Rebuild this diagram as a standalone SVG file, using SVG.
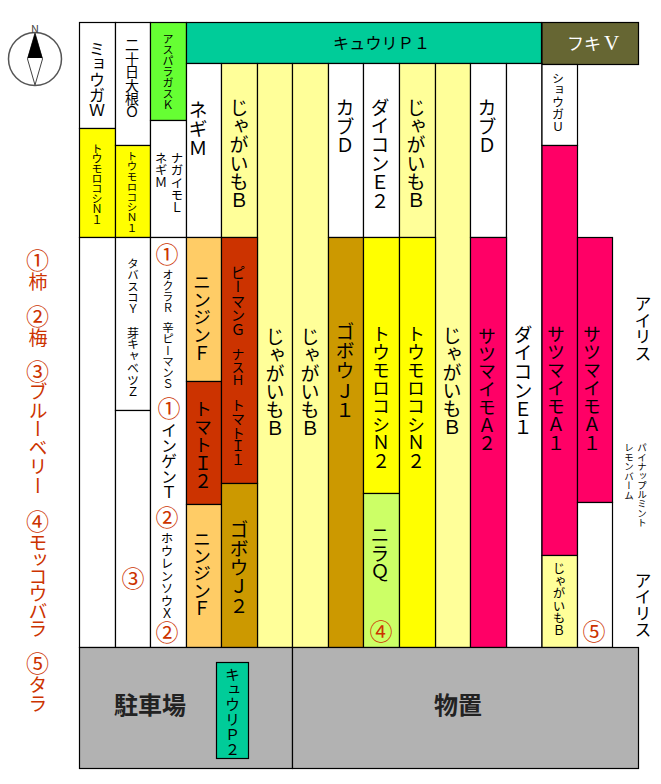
<svg xmlns="http://www.w3.org/2000/svg" width="661" height="784" viewBox="0 0 661 784">
<style>
rect{stroke:#000;stroke-width:1.2}
text{font-family:"Noto Sans CJK JP","Liberation Sans",sans-serif;fill:#000}
.v{writing-mode:vertical-rl;text-orientation:upright}
.r{fill:#CC3300}
.c{fill:#CC3300;font-size:23px;text-anchor:middle}
.w{fill:#fff}
.wh{fill:#fff}.ly{fill:#FFFF99}.ye{fill:#FFFF00}.or{fill:#FFCC66}.rd{fill:#CC3300}.go{fill:#CC9900}.pk{fill:#FF0066}.gr{fill:#B2B2B2}.te{fill:#00CC99}
</style>
<rect width="661" height="784" style="fill:#fff;stroke:none"/>
<g id="compass">
<circle cx="35" cy="59" r="26.5" fill="#fff" stroke="#555" stroke-width="1.5"/>
<path d="M35 33L42.5 59L35 85L27.5 59Z" fill="#fff" stroke="#444" stroke-width="1"/>
<path d="M35 33L42.5 58L27.5 58Z" fill="#000"/>
<text x="35" y="33" font-size="11" text-anchor="middle" style="fill:#444">N</text>
</g>
<g id="myoga"><rect class="wh" x="79.5" y="22.5" width="36" height="106"/><text class="v" x="97" y="41" font-size="16" textLength="77">ミョウガＷ</text></g>
<g id="corn-n1-a"><rect class="ye" x="79.5" y="128.5" width="36" height="109"/><text class="v" x="97" y="143" font-size="11" textLength="82">トウモロコシＮ１</text></g>
<g id="hatsuka"><rect class="wh" x="115.5" y="22.5" width="35" height="123"/><text class="v" x="132" y="38" font-size="14" textLength="81">二十日大根Ｏ</text></g>
<g id="corn-n1-b"><rect class="ye" x="115.5" y="145.5" width="35" height="92"/><text class="v" x="132" y="151" font-size="10.5" textLength="82">トウモロコシＮ１</text></g>
<g id="asparagus"><rect x="150.5" y="22.5" width="36" height="98" style="fill:#66FF33"/><text class="v" x="168" y="33" font-size="11" textLength="77">アスパラガスＫ</text></g>
<g id="nagaimo"><rect class="wh" x="150.5" y="120.5" width="36" height="117"/><text class="v" x="177" y="152" font-size="12.5" textLength="62">ナガイモＬ</text><text class="v" x="161" y="152" font-size="12.5" textLength="37">ネギＭ</text></g>
<g id="cucumber-p1"><rect class="te" x="186.5" y="22.5" width="355" height="41"/><text x="333" y="49" font-size="16" textLength="97">キュウリＰ１</text></g>
<g id="fuki"><rect x="542" y="22.5" width="96.5" height="42" style="fill:#666633"/><text class="w" x="567" y="50" font-size="17">フキ<tspan style="font-family:'Liberation Serif',serif" font-size="21" dx="3">V</tspan></text></g>
<g id="negi"><rect class="wh" x="186.5" y="63.5" width="35" height="174"/><text class="v" x="198" y="100" font-size="19" textLength="58">ネギＭ</text></g>
<g id="potato-1"><rect class="ly" x="221.5" y="63.5" width="36" height="174"/><text class="v" x="239" y="98" font-size="19" textLength="112">じゃがいもＢ</text></g>
<g id="potato-2"><rect class="ly" x="257.5" y="63.5" width="35" height="584"/><text class="v" x="275" y="327" font-size="19" textLength="111">じゃがいもＢ</text></g>
<g id="potato-3"><rect class="ly" x="292.5" y="63.5" width="36" height="584"/><text class="v" x="310" y="327" font-size="19" textLength="111">じゃがいもＢ</text></g>
<g id="kabu-1"><rect class="wh" x="328.5" y="63.5" width="35" height="174"/><text class="v" x="345" y="98" font-size="19" textLength="57">カブＤ</text></g>
<g id="daikon-e2"><rect class="wh" x="363.5" y="63.5" width="36" height="174"/><text class="v" x="380" y="98" font-size="19" textLength="112">ダイコンＥ２</text></g>
<g id="potato-4"><rect class="ly" x="399.5" y="63.5" width="36" height="174"/><text class="v" x="416" y="98" font-size="19" textLength="112">じゃがいもＢ</text></g>
<g id="potato-5"><rect class="ly" x="435.5" y="63.5" width="35" height="584"/><text class="v" x="452" y="326" font-size="19" textLength="111">じゃがいもＢ</text></g>
<g id="kabu-2"><rect class="wh" x="470.5" y="63.5" width="36" height="174"/><text class="v" x="487" y="98" font-size="19" textLength="57">カブＤ</text></g>
<g id="daikon-e1"><rect class="wh" x="506.5" y="63.5" width="35.5" height="584"/><text class="v" x="523" y="325" font-size="19" textLength="112">ダイコンＥ１</text></g>
<g id="shoga"><rect class="wh" x="542" y="64.5" width="35.5" height="81"/><text class="v" x="558" y="72" font-size="12" textLength="61">ショウガＵ</text></g>
<g id="blank-col"><rect class="wh" x="79.5" y="237.5" width="36" height="410"/></g>
<g id="tabasco"><rect class="wh" x="115.5" y="237.5" width="35" height="173"/><text class="v" x="133" y="258" font-size="11.5" textLength="57">タバスコＹ</text><text class="v" x="133" y="327" font-size="12" textLength="71">芽キャベツＺ</text></g>
<g id="blueberry-bed"><rect class="wh" x="115.5" y="410.5" width="35" height="237"/><text class="c" x="133" y="587">③</text></g>
<g id="mixed-bed"><rect class="wh" x="150.5" y="237.5" width="36" height="410"/>
<text class="c" x="167" y="263">①</text>
<text class="v" x="168" y="269" font-size="11" textLength="44">オクラＲ</text>
<text class="v" x="168" y="322" font-size="11.5" textLength="68">辛ピーマンＳ</text>
<text class="c" x="169" y="417">①</text>
<text class="v" x="169" y="422" font-size="16" textLength="78">インゲンＴ</text>
<text class="c" x="167" y="526">②</text>
<text class="v" x="167" y="532" font-size="12.5" textLength="88">ホウレンソウＸ</text>
<text class="c" x="167" y="641">②</text></g>
<g id="carrot-1"><rect class="or" x="186.5" y="237.5" width="35" height="144"/><text class="v" x="202" y="273" font-size="18" textLength="89">ニンジンＦ</text></g>
<g id="tomato-2"><rect class="rd" x="186.5" y="381.5" width="35" height="123"/><text class="v" x="203" y="400" font-size="18" textLength="90">トマトＩ２</text></g>
<g id="carrot-2"><rect class="or" x="186.5" y="504.5" width="35" height="143"/><text class="v" x="202" y="530" font-size="18" textLength="87">ニンジンＦ</text></g>
<g id="pepper-bed"><rect class="rd" x="221.5" y="237.5" width="36" height="246"/><text class="v" x="238" y="265" font-size="14.5" textLength="72">ピーマンＧ</text><text class="v" x="238" y="348" font-size="13" textLength="39">ナスＨ</text><text class="v" x="238" y="398" font-size="14" textLength="69">トマトＩ１</text></g>
<g id="gobo-j2"><rect class="go" x="221.5" y="483.5" width="36" height="164"/><text class="v" x="239" y="520" font-size="19" textLength="95">ゴボウＪ２</text></g>
<g id="gobo-j1"><rect class="go" x="328.5" y="237.5" width="35" height="410"/><text class="v" x="345" y="322" font-size="19" textLength="98">ゴボウＪ１</text></g>
<g id="corn-n2-a"><rect class="ye" x="363.5" y="237.5" width="36" height="256"/><text class="v" x="381" y="325" font-size="18" textLength="145">トウモロコシＮ２</text></g>
<g id="nira"><rect x="363.5" y="493.5" width="36" height="154" style="fill:#CCFF66"/><text class="v" x="380" y="525" font-size="19" textLength="57">ニラＱ</text><text class="c" x="381" y="640">④</text></g>
<g id="corn-n2-b"><rect class="ye" x="399.5" y="237.5" width="36" height="410"/><text class="v" x="416" y="325" font-size="18" textLength="145">トウモロコシＮ２</text></g>
<g id="sweet-a2"><rect class="pk" x="470.5" y="237.5" width="36" height="410"/><text class="v" x="487" y="327" font-size="18" textLength="125">サツマイモＡ２</text></g>
<g id="sweet-a1-a"><rect class="pk" x="542" y="145.5" width="35.5" height="410"/><text class="v" x="556" y="325" font-size="18" textLength="127">サツマイモＡ１</text></g>
<g id="potato-6"><rect class="ly" x="542" y="555.5" width="35.5" height="92"/><text class="v" x="559" y="562" font-size="12.5" textLength="75">じゃがいもＢ</text></g>
<g id="sweet-a1-b"><rect class="pk" x="577.5" y="237.5" width="35" height="265"/><text class="v" x="592" y="325" font-size="18" textLength="127">サツマイモＡ１</text></g>
<g id="tara-bed"><rect class="wh" x="577.5" y="502.5" width="35" height="145"/><text class="c" x="594" y="640">⑤</text></g>
<g id="parking"><rect class="gr" x="79.5" y="647.5" width="213" height="121"/><text x="150" y="714" font-size="24" font-weight="700" text-anchor="middle" style="fill:#222">駐車場</text></g>
<g id="storage"><rect class="gr" x="292.5" y="647.5" width="346" height="121"/><text x="458" y="714" font-size="24" font-weight="700" text-anchor="middle" style="fill:#222">物置</text></g>
<g id="cucumber-p2"><rect class="te" x="216.5" y="662.5" width="32" height="96"/><text class="v" x="232.5" y="667" font-size="15" textLength="90">キュウリＰ２</text></g>
<g id="iris-1"><text class="v" x="643" y="295" font-size="17" textLength="67">アイリス</text></g>
<g id="iris-2"><text class="v" x="643" y="572" font-size="17" textLength="66">アイリス</text></g>
<g id="herbs"><text class="v" x="642" y="443" font-size="9.5" textLength="84">パイナップルミント</text><text class="v" x="629" y="443" font-size="9.5" textLength="57">レモンバーム</text></g>
<g id="legend">
<text class="c" x="37.500" y="269">①</text><text class="v r" x="38" y="272" font-size="19">柿</text>
<text class="c" x="37.500" y="325">②</text><text class="v r" x="38" y="328" font-size="19">梅</text>
<text class="c" x="37.500" y="380">③</text><text class="v r" x="38" y="382" font-size="19" textLength="113">ブルーベリー</text>
<text class="c" x="37.500" y="530">④</text><text class="v r" x="38" y="533" font-size="19" textLength="105">モッコウバラ</text>
<text class="c" x="37.500" y="672">⑤</text><text class="v r" x="38" y="675" font-size="19" textLength="38">タラ</text>
</g>
</svg>
